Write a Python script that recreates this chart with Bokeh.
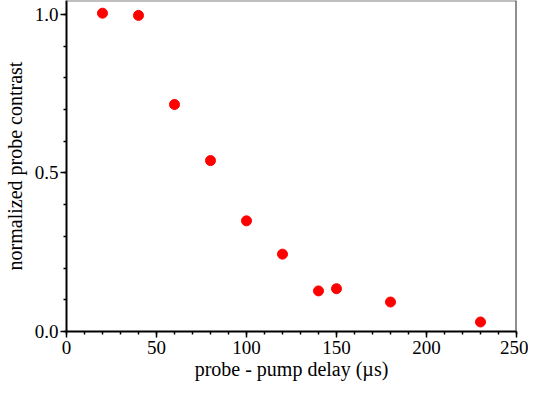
from bokeh.plotting import figure
from bokeh.models import (Range1d, SingleIntervalTicker, NumeralTickFormatter,
                          Span, ColumnDataSource)
from bokeh.embed import file_html
from bokeh.resources import INLINE

# data
delay_us = [20, 40, 60, 80, 100, 120, 140, 150, 180, 230]
contrast = [1.004, 0.997, 0.716, 0.539, 0.349, 0.244, 0.128, 0.135, 0.093, 0.030]

x_label = "probe - pump delay (\u00b5s)"
y_label = "normalized probe contrast"

FONT = "Liberation Serif"
Y_END = 1.044

p = figure(width=528, height=385, output_backend="svg", toolbar_location=None,
           x_range=Range1d(0, 250), y_range=Range1d(0, Y_END),
           min_border_left=62, min_border_right=12, min_border_top=0,
           min_border_bottom=54)

src = ColumnDataSource(dict(x=delay_us, y=contrast))
p.scatter("x", "y", source=src, size=10, fill_color="#ff0000", line_color="#ff0000")

p.grid.visible = False
p.outline_line_color = None
p.background_fill_color = "white"
p.border_fill_color = "white"

p.xaxis.ticker = SingleIntervalTicker(interval=50, num_minor_ticks=5)
p.yaxis.ticker = SingleIntervalTicker(interval=0.5, num_minor_ticks=5)
p.yaxis.formatter = NumeralTickFormatter(format="0.0")
p.xaxis.formatter = NumeralTickFormatter(format="0")

for ax in (p.xaxis[0], p.yaxis[0]):
    ax.axis_line_width = 2
    ax.axis_line_color = "black"
    ax.major_tick_line_color = "black"
    ax.minor_tick_line_color = "black"
    ax.major_tick_line_width = 1.5
    ax.minor_tick_line_width = 1.5
    ax.major_tick_out = 6
    ax.major_tick_in = 0
    ax.minor_tick_out = 3
    ax.minor_tick_in = 0
    ax.major_label_text_font = FONT
    ax.major_label_text_font_size = "19px"
    ax.major_label_text_color = "black"
    ax.axis_label_text_font = FONT
    ax.axis_label_text_font_size = "20px"
    ax.axis_label_text_font_style = "normal"
    ax.axis_label_text_color = "black"

p.xaxis.axis_label = x_label
p.yaxis.axis_label = y_label
p.xaxis.major_label_standoff = 3
p.yaxis.major_label_standoff = 2
p.xaxis.axis_label_standoff = 1
p.yaxis.axis_label_standoff = 6

p.add_layout(Span(location=Y_END, dimension="width", line_color="#808080", line_width=2))
p.add_layout(Span(location=250, dimension="height", line_color="#222222", line_width=2))

open("out.html", "w").write(file_html(p, INLINE))
